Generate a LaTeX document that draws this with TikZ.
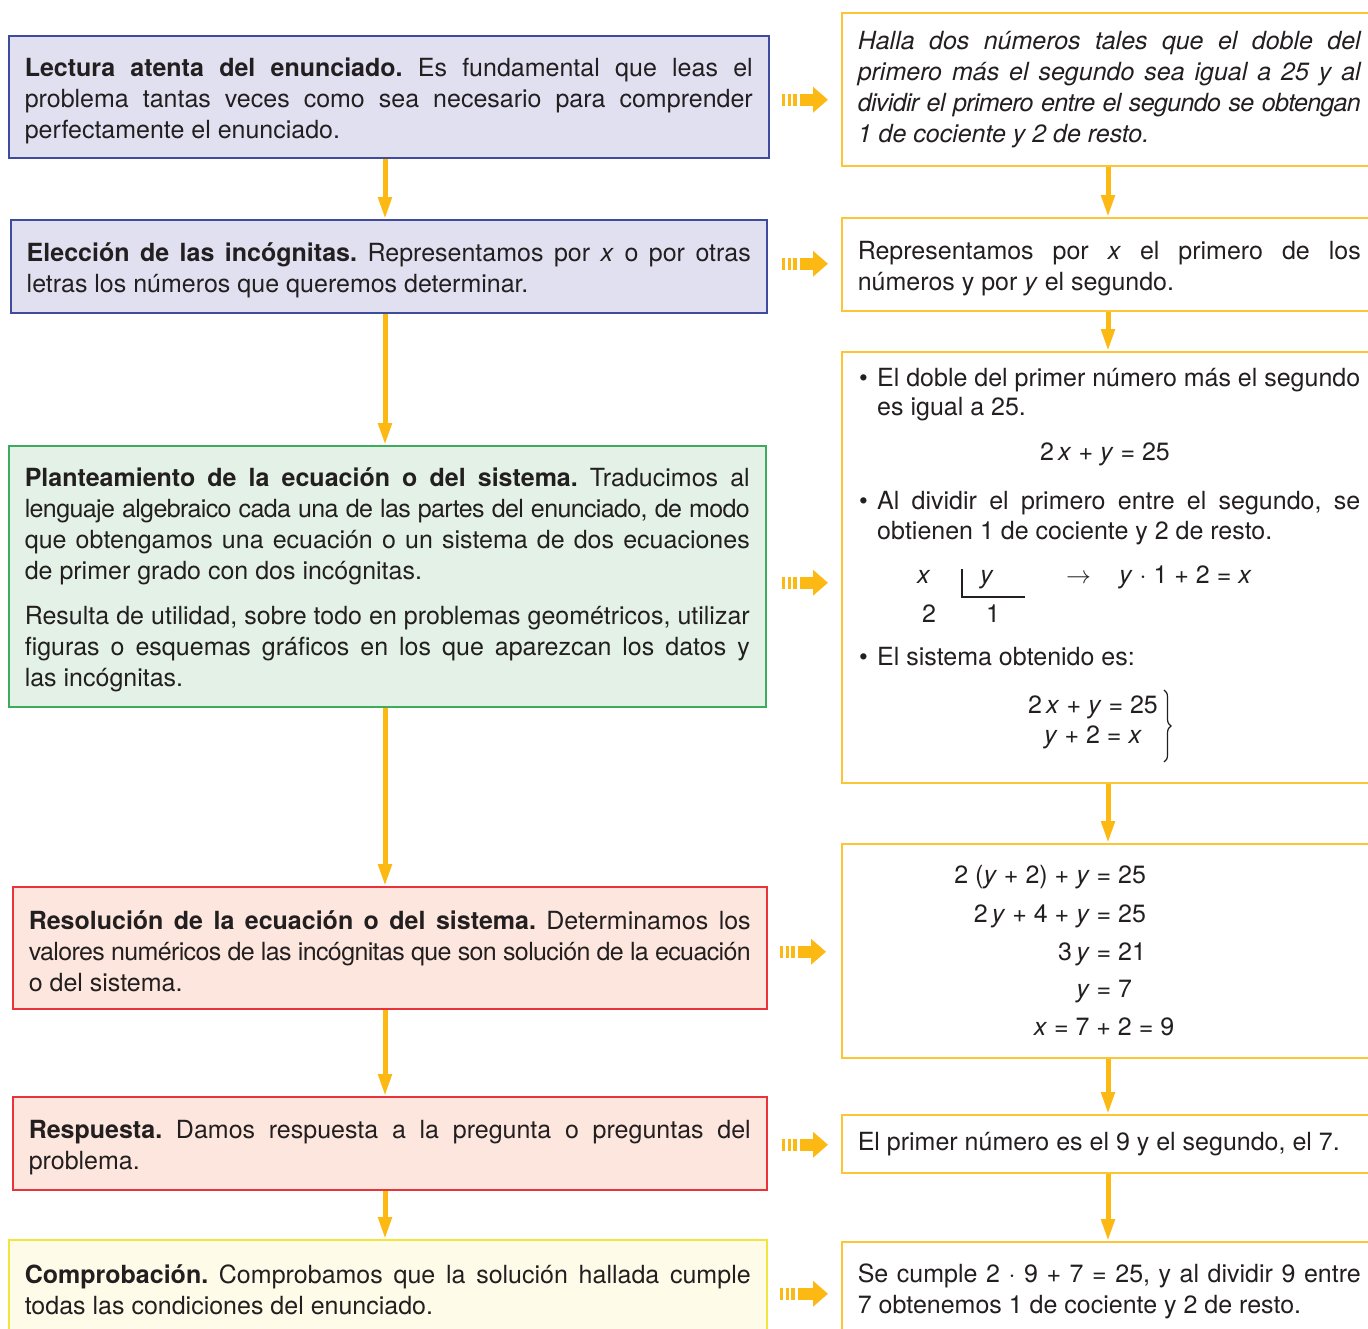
\documentclass[tikz,border=0pt]{standalone}
\usepackage{fontspec}
\setmainfont{TeX Gyre Heros}
\usepackage{tikz}
\usetikzlibrary{arrows.meta,decorations.pathreplacing}

\definecolor{lilafill}{HTML}{E1E0F1}
\definecolor{lilaline}{HTML}{3F4C9E}
\definecolor{verdefill}{HTML}{E3F1E6}
\definecolor{verdeline}{HTML}{3DAA5C}
\definecolor{rojofill}{HTML}{FDE6DD}
\definecolor{rojoline}{HTML}{E8333A}
\definecolor{amafill}{HTML}{FEFBE8}
\definecolor{amaline}{HTML}{F2E53C}
\definecolor{oroline}{HTML}{FDC536}
\definecolor{flecha}{HTML}{FDB913}
\definecolor{tinta}{HTML}{231F20}

\newcommand{\vx}{\textit{x}}
\newcommand{\vy}{\textit{y}}
\newcommand{\apretado}[1]{{\addfontfeature{LetterSpace=-2.5}#1}}
\newcommand{\alto}{\rule{0pt}{26pt}}
\frenchspacing

\tikzset{
  caja/.style={draw=#1, line width=1.5pt, anchor=north west, inner xsep=16pt,
    inner ysep=0pt, align=justify, text=tinta},
  lila/.style={caja=lilaline, fill=lilafill},
  verde/.style={caja=verdeline, fill=verdefill},
  rojo/.style={caja=rojoline, fill=rojofill},
  amarillo/.style={caja=amaline, fill=amafill},
  oro/.style={caja=oroline, fill=white, text width=503pt},
  varrow/.style={flecha, line width=5pt, -{Triangle[width=13pt,length=22pt]}},
  harrow/.style={flecha, line width=12pt,
    dash pattern=on 3pt off 3pt on 3pt off 2pt on 4pt off 3pt on 80pt,
    -{Triangle[width=25pt,length=15pt]}},
  linea/.style={anchor=base west, text=tinta, inner sep=0pt},
  eq/.style={anchor=base, text=tinta, inner sep=0pt},
}

\begin{document}
\begin{tikzpicture}[x=1pt,y=-1pt,every node/.style={font=\fontsize{25}{31}\selectfont}]
\useasboundingbox (0,0) rectangle (1368,1328);

% columna izquierda
\node[lila, text width=728pt, minimum height=122pt] (lect) at (8,35)
  {\alto\textbf{Lectura atenta del enunciado.} Es fundamental que leas el\linebreak
   problema tantas veces como sea necesario para comprender\linebreak
   perfectamente el enunciado.};
\node[lila, text width=724pt, minimum height=93pt] (elec) at (10,219)
  {\alto\textbf{Elección de las incógnitas.} Representamos por \vx{} o por otras\linebreak
   letras los números que queremos determinar.};
\node[verde, text width=725pt, minimum height=261pt] (plan) at (8,445)
  {\alto\textbf{Planteamiento de la ecuación o del sistema.} Traducimos al\linebreak
   \apretado{lenguaje algebraico cada una de las partes del enunciado, de modo}\linebreak
   que obtengamos una ecuación o un sistema de dos ecuaciones\linebreak
   de primer grado con dos incógnitas.\par\vspace{14pt}
   Resulta de utilidad, sobre todo en problemas geométricos, utilizar\linebreak
   figuras o esquemas gráficos en los que aparezcan los datos y\linebreak
   las incógnitas.};
\node[rojo, text width=722pt, minimum height=122pt] (reso) at (12,886)
  {\alto\textbf{Resolución de la ecuación o del sistema.} Determinamos los\linebreak
   \apretado{valores numéricos de las incógnitas que son solución de la ecuación}\linebreak
   o del sistema.};
\node[rojo, text width=722pt, minimum height=93pt] (resp) at (12,1096)
  {\alto\textbf{Respuesta.} Damos respuesta a la pregunta o preguntas del\linebreak
   problema.};
\node[amarillo, text width=726pt, minimum height=100pt] (comp) at (8,1239)
  {\textbf{Comprobación.} Comprobamos que la solución hallada cumple\linebreak
   todas las condiciones del enunciado.};

% columna derecha
\node[oro, minimum height=153pt, font=\fontsize{25}{31}\selectfont\itshape] (r1) at (841,12)
  {Halla dos números tales que el doble del\linebreak
   primero más el segundo sea igual a 25 y al\linebreak
   \apretado{dividir el primero entre el segundo se obtengan}\linebreak
   1 de cociente y 2 de resto.};
\node[oro, minimum height=93pt] (r2) at (841,217)
  {\alto Representamos por \vx{} el primero de los\linebreak
   números y por \vy{} el segundo.};
\node[oro, minimum height=431pt] (r3) at (841,351) {};
\node[oro, minimum height=214pt] (r4) at (841,843) {};
\node[oro, minimum height=58pt] (r5) at (841,1114)
  {El primer número es el 9 y el segundo, el 7.};
\node[oro, minimum height=100pt] (r6) at (841,1241)
  {Se cumple 2 · 9 + 7 = 25, y al dividir 9 entre\linebreak
   7 obtenemos 1 de cociente y 2 de resto.};

% contenido de r3
\node[linea] (p1) at (859,386)
  {\makebox[18pt][l]{\textbullet}\makebox[483pt][s]{El doble del primer número más el segundo}};
\node[linea] (p2) at (877,415) {es igual a 25.};
\node[eq] (ec1) at (1105,460) {2\,\vx{} + \vy{} = 25};
\node[linea] (p3) at (859,509)
  {\makebox[18pt][l]{\textbullet}\makebox[483pt][s]{Al dividir el primero entre el segundo, se}};
\node[linea] (p4) at (877,539) {obtienen 1 de cociente y 2 de resto.};
\node[linea] (dx) at (917,583) {\vx};
\node[linea] (dy) at (980,583) {\vy};
\node[linea] (dflecha) at (1066,583) {$\rightarrow$};
\node[linea] (dres) at (1119,583) {\vy{} · 1 + 2 = \vx};
\node[linea] (dresto) at (922,622) {2};
\node[linea] (dcoc) at (986,622) {1};
\draw[tinta, line width=1.3pt] (962,569) -- (962,597) -- (1025,597);
\node[linea] (p5) at (859,665) {\makebox[18pt][l]{\textbullet}El sistema obtenido es:};
\node[eq] (s1) at (1093,713) {2\,\vx{} + \vy{} = 25};
\node[eq] (s2) at (1093,743) {\vy{} + 2 = \vx};
\draw[tinta, line width=1.2pt, decorate, decoration={brace, amplitude=7pt}]
  (1164,690) -- (1164,762);

% contenido de r4
\node[eq] (e1) at (1104,883) {\llap{2 (\vy{} + 2) + \vy{} }=\rlap{ 25}};
\node[eq] (e2) at (1104,922) {\llap{2\,\vy{} + 4 + \vy{} }=\rlap{ 25}};
\node[eq] (e3) at (1104,960) {\llap{3\,\vy{} }=\rlap{ 21}};
\node[eq] (e4) at (1104,997) {\llap{\vy{} }=\rlap{ 7}};
\node[eq] (e5) at (1104,1035) {\vx{} = 7 + 2 = 9};

% flechas verticales
\coordinate (lx) at (385,0);
\coordinate (rx) at (1108,0);
\draw[varrow] (lect.south -| lx) -- (elec.north -| lx);
\draw[varrow] (elec.south -| lx) -- (plan.north -| lx);
\draw[varrow] (plan.south -| lx) -- (reso.north -| lx);
\draw[varrow] (reso.south -| lx) -- (resp.north -| lx);
\draw[varrow] (resp.south -| lx) -- (comp.north -| lx);
\draw[varrow] (r1.south -| rx) -- (r2.north -| rx);
\draw[varrow] (r2.south -| rx) -- (r3.north -| rx);
\draw[varrow] (r3.south -| rx) -- (r4.north -| rx);
\draw[varrow] (r4.south -| rx) -- (r5.north -| rx);
\draw[varrow] (r5.south -| rx) -- (r6.north -| rx);

% flechas horizontales
\draw[harrow] ([xshift=12pt,yshift=-3pt]lect.east) -- ([xshift=-13pt,yshift=-3pt]lect.east -| r1.west);
\draw[harrow] ([xshift=14pt,yshift=2.5pt]elec.east) -- ([xshift=-13pt,yshift=2.5pt]elec.east -| r2.west);
\draw[harrow] ([xshift=15pt,yshift=-6.5pt]plan.east) -- ([xshift=-13pt,yshift=-6.5pt]plan.east -| r3.west);
\draw[harrow] ([xshift=12pt,yshift=-4pt]reso.east) -- ([xshift=-15pt,yshift=-4pt]reso.east -| r4.west);
\draw[harrow] ([xshift=14pt,yshift=-1.5pt]resp.east) -- ([xshift=-13pt,yshift=-1.5pt]resp.east -| r5.west);
\draw[harrow] ([xshift=12pt,yshift=-4pt]comp.east) -- ([xshift=-13pt,yshift=-4pt]comp.east -| r6.west);
\end{tikzpicture}
\end{document}
